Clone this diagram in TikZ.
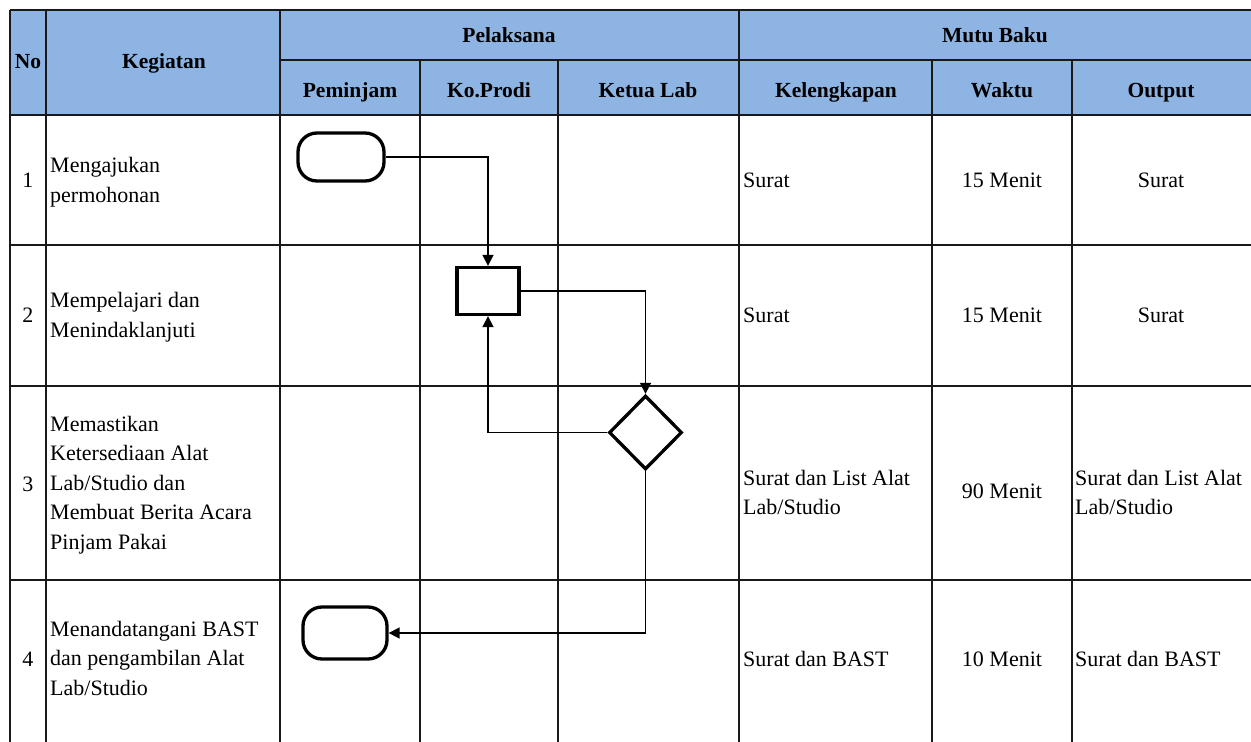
\documentclass[tikz,border=0pt]{standalone}
\usepackage{fontspec}
\setmainfont{Liberation Serif}
\usetikzlibrary{shapes.geometric,arrows.meta}
\definecolor{hdr}{RGB}{141,180,226}
\begin{document}
\begin{tikzpicture}[x=1pt,y=-1pt,
  grid/.style={line width=1.8pt,black!90},
  hd/.style={font=\fontsize{21.5}{26}\selectfont\bfseries,inner sep=0pt,anchor=base},
  tx/.style={font=\fontsize{22}{29.5}\selectfont,inner sep=0pt,align=left,anchor=base west},
  cx/.style={font=\fontsize{22}{29.5}\selectfont,inner sep=0pt,align=center,anchor=base},
  term/.style={draw,line width=3.3pt,rounded corners=19pt,minimum width=86pt,minimum height=48pt,inner sep=0pt},
  proc/.style={draw,line width=3.3pt,minimum width=62pt,minimum height=47pt,inner sep=0pt},
  dec/.style={draw,diamond,line width=3.3pt,minimum width=73pt,minimum height=74pt,inner sep=0pt},
  conn/.style={line width=1.6pt,-{Triangle[length=11pt,width=11pt]}}]
\useasboundingbox (0,0) rectangle (1251,742);
\fill[hdr] (10,10) rectangle (1251,115);
% grid
\draw[grid] (10,10) -- (1251,10);
\draw[grid] (280,60) -- (1251,60);
\draw[grid] (10,115) -- (1251,115);
\draw[grid] (10,245) -- (1251,245);
\draw[grid] (10,386) -- (1251,386);
\draw[grid] (10,580) -- (1251,580);
\draw[grid] (10,10) -- (10,742);
\draw[grid] (46,10) -- (46,742);
\draw[grid] (280,10) -- (280,742);
\draw[grid] (420,60) -- (420,742);
\draw[grid] (558,60) -- (558,742);
\draw[grid] (739,10) -- (739,742);
\draw[grid] (932,60) -- (932,742);
\draw[grid] (1072,60) -- (1072,742);
% header
\node[hd] (hno) at (28,68.5) {No};
\node[hd] (hkeg) at (164,68.5) {Kegiatan};
\node[hd] (hpel) at (509,42.5) {Pelaksana};
\node[hd] (hmutu) at (995,42.5) {Mutu Baku};
\node[hd] (hpem) at (350,97) {Peminjam};
\node[hd] (hkop) at (489,97) {Ko.Prodi};
\node[hd] (hket) at (648,97) {Ketua Lab};
\node[hd] (hkel) at (836,97) {Kelengkapan};
\node[hd] (hwak) at (1002,97) {Waktu};
\node[hd] (hout) at (1161,97) {Output};
% numbers
\node[cx] (n1) at (28,187) {1};
\node[cx] (n2) at (28,322) {2};
\node[cx] (n3) at (28,491) {3};
\node[cx] (n4) at (28,666) {4};
% kegiatan (base = last line)
\node[tx] (k1) at (50,202) {Mengajukan\\permohonan};
\node[tx] (k2) at (50,337) {Mempelajari dan\\Menindaklanjuti};
\node[tx] (k3) at (50,549) {Memastikan\\Ketersediaan Alat\\Lab/Studio dan\\Membuat Berita Acara\\Pinjam Pakai};
\node[tx] (k4) at (50,695) {Menandatangani BAST\\dan pengambilan Alat\\Lab/Studio};
% kelengkapan
\node[tx] (l1) at (743,187) {Surat};
\node[tx] (l2) at (743,322) {Surat};
\node[tx] (l3) at (743,514.5) {Surat dan List Alat\\Lab/Studio};
\node[tx] (l4) at (743,666) {Surat dan BAST};
% waktu
\node[cx] (w1) at (1002,187) {15 Menit};
\node[cx] (w2) at (1002,322) {15 Menit};
\node[cx] (w3) at (1002,498) {90 Menit};
\node[cx] (w4) at (1002,666) {10 Menit};
% output
\node[cx] (o1) at (1161,187) {Surat};
\node[cx] (o2) at (1161,322) {Surat};
\node[tx] (o3) at (1075,514.5) {Surat dan List Alat\\Lab/Studio};
\node[tx] (o4) at (1075,666) {Surat dan BAST};
% flow shapes
\node[term] (t1) at (341,157) {};
\node[proc] (b1) at (488,291) {};
\node[dec] (d1) at (645.5,432.5) {};
\node[term,minimum height=52pt,minimum width=84pt] (t2) at (345,633) {};
% connectors
\draw[conn] (t1.east) -| (b1.north);
\draw[conn] (b1.east) -| (d1.north);
\draw[conn] (d1.west) -| (b1.south);
\draw[conn] (d1.south) |- (t2.east);
\end{tikzpicture}
\end{document}
